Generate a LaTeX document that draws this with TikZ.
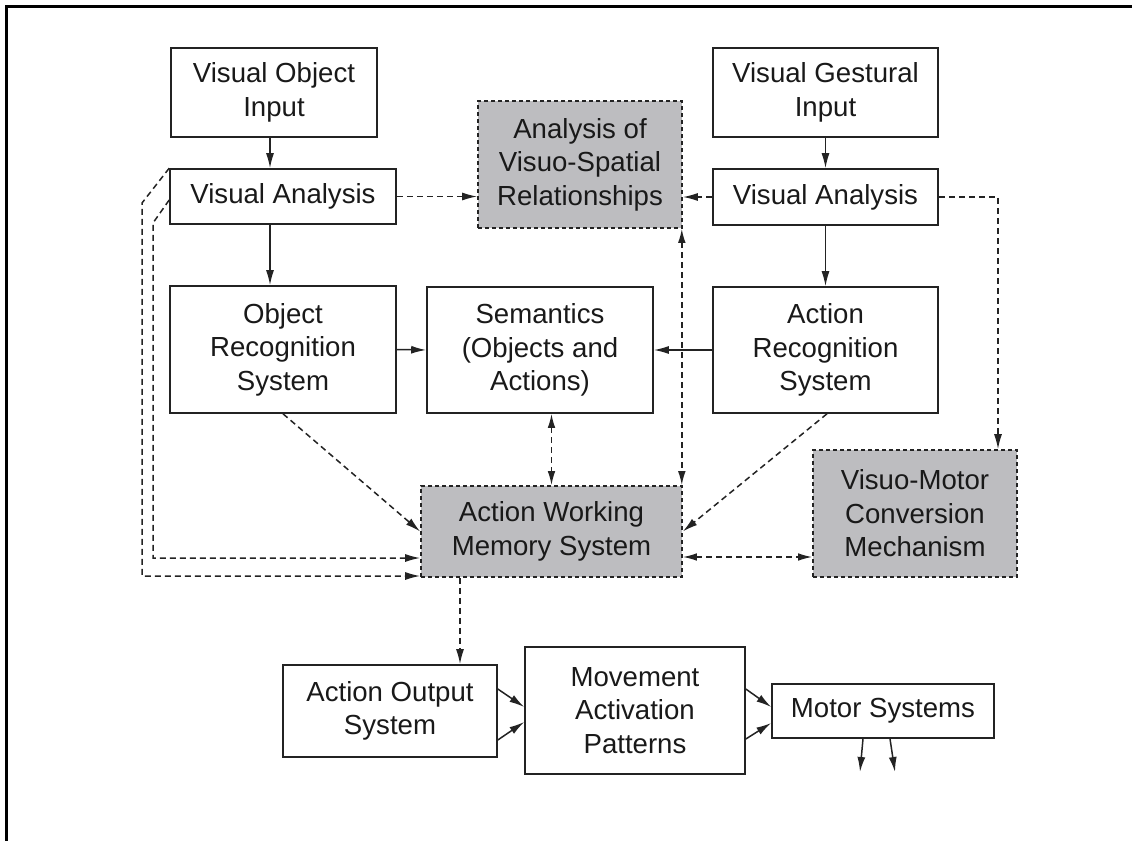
\documentclass[tikz,border=0pt]{standalone}
\usepackage{fontspec}
\setmainfont{Liberation Sans}
\usetikzlibrary{arrows.meta}
\definecolor{boxgray}{RGB}{189,189,192}
\definecolor{linec}{RGB}{35,35,35}
\definecolor{txt}{RGB}{25,25,25}
\begin{document}
\begin{tikzpicture}[x=0.5pt,y=-0.5pt,
  box/.style={draw=linec, line width=0.8pt, align=center, inner sep=0pt, text=txt,
    font=\fontsize{13.8}{16.75}\selectfont},
  gbox/.style={box, fill=boxgray, dash pattern=on 2pt off 1.5pt},
  arr/.style={-{Latex[length=7.5pt,width=4pt]}, line width=0.75pt, draw=linec},
  darr/.style={arr, dash pattern=on 3pt off 2pt},
  ddarr/.style={darr, {Latex[length=7pt,width=3.8pt]}-{Latex[length=7pt,width=3.8pt]}},
]
\useasboundingbox (0,0) rectangle (1132,841);
\draw[line width=1.5pt] (6,841) -- (6,6.5) -- (1132,6.5);

% nodes
\node[box, minimum width=103pt, minimum height=44.5pt] (voi) at (274,92.5) {Visual Object\\Input};
\node[box, minimum width=112.5pt, minimum height=44.5pt] (vgi) at (825.5,92.5) {Visual Gestural\\Input};
\node[box, minimum width=113pt, minimum height=27.5pt] (val) at (283,196.5) {Visual Analysis};
\node[box, minimum width=112.5pt, minimum height=28pt] (var) at (825.5,197) {Visual Analysis};
\node[gbox, minimum width=102pt, minimum height=63.5pt] (avsr) at (580,164.5) {Analysis of\\Visuo-Spatial\\Relationships};
\node[box, minimum width=113pt, minimum height=63.5pt] (ors) at (283,349.5) {Object\\Recognition\\System};
\node[box, minimum width=113pt, minimum height=63pt] (sem) at (540,350) {Semantics\\(Objects and\\Actions)};
\node[box, minimum width=112.5pt, minimum height=63pt] (ars) at (825.5,350) {Action\\Recognition\\System};
\node[gbox, minimum width=130.5pt, minimum height=45.5pt] (awm) at (551.5,531.5) {Action Working\\Memory System};
\node[gbox, minimum width=102pt, minimum height=63.5pt] (vmc) at (915,513.5) {Visuo-Motor\\Conversion\\Mechanism};
\node[box, minimum width=107pt, minimum height=46pt] (aos) at (390,711) {Action Output\\System};
\node[box, minimum width=110pt, minimum height=63.5pt] (map) at (635,710.5) {Movement\\Activation\\Patterns};
\node[box, minimum width=111pt, minimum height=27pt] (ms) at (883,711) {Motor Systems};

% bend points
\coordinate (o1) at (142,203);
\coordinate (o2) at (142,576);
\coordinate (i1) at (153,223);
\coordinate (i2) at (153,558);

% solid arrows
\draw[arr] ([xshift=-2pt]voi.south) -- ([xshift=-2pt]voi.south |- val.north);
\draw[arr] ([xshift=-6.5pt]val.south) -- ([xshift=-6.5pt]ors.north);
\draw[arr] (vgi.south) -- (var.north);
\draw[arr] (var.south) -- (ars.north);
\draw[arr] (ors.east) -- (sem.west);
\draw[arr] (ars.west) -- (sem.east);

% dashed arrows
\draw[darr] (val.east) -- (val.east -| avsr.west);
\draw[darr] (var.west) -- (var.west -| avsr.east);
\draw[ddarr] ([xshift=-0.5pt]avsr.south east) -- ([xshift=-0.5pt]awm.north east);
\draw[ddarr] (awm.north |- sem.south) -- (awm.north);
\draw[darr] (ors.south) -- (awm.west);
\draw[darr] ([xshift=0.75pt]ars.south) -- (awm.east);
\draw[ddarr] ([yshift=-12.75pt]awm.east) -- ([yshift=-12.75pt]awm.east -| vmc.west);
\draw[darr] (var.east) -| ([xshift=41.5pt]vmc.north);
\draw[darr] (val.north west) -- (o1) -- (o2) -- (o2 -| awm.west);
\draw[darr] ([yshift=-1.75pt]val.west) -- (i1) -- (i2) -- (i2 -| awm.west);
\draw[darr] ([xshift=-45.75pt]awm.south) -- ([xshift=-45.75pt]awm.south |- aos.north);

% bottom solid arrows
\draw[arr] ([yshift=11pt]aos.east) -- ([yshift=1.75pt]map.west);
\draw[arr] ([yshift=-14.5pt]aos.east) -- ([yshift=-5.75pt]map.west);
\draw[arr] ([yshift=10.75pt]map.east) -- ([yshift=2pt]ms.west);
\draw[arr] ([yshift=-14.25pt]map.east) -- ([yshift=-6pt]ms.west);
\coordinate (m1) at (860,772);
\coordinate (m2) at (895,772);
\draw[arr] ([xshift=-10pt]ms.south) -- (m1);
\draw[arr] ([xshift=3.5pt]ms.south) -- (m2);
\end{tikzpicture}
\end{document}
